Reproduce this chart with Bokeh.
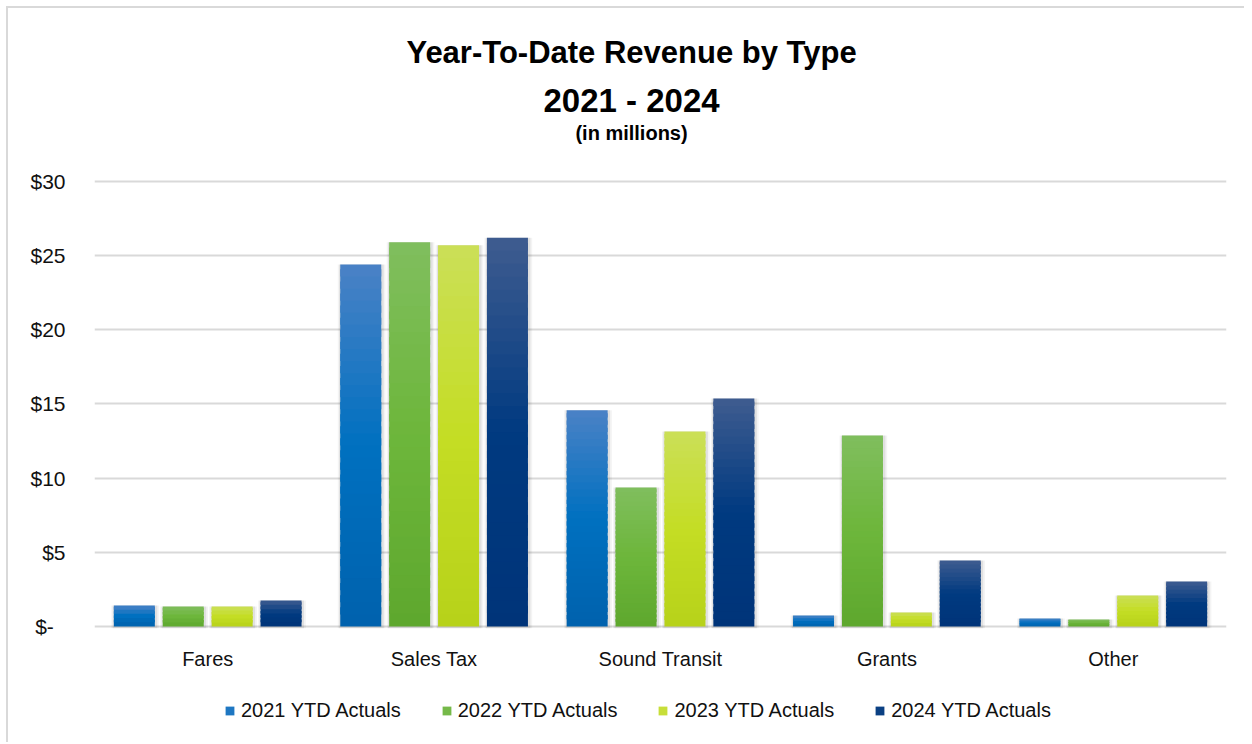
from bokeh.plotting import figure
from bokeh.models import (FactorRange, Range1d, Legend, LegendItem, Label,
                          CustomJSTickFormatter, ColumnDataSource, FixedTicker)
from bokeh.core.properties import value
from bokeh.transform import dodge
from bokeh.embed import file_html
from bokeh.resources import INLINE

# ---------------- data ----------------
categories = ["Fares", "Sales Tax", "Sound Transit", "Grants", "Other"]
series_names = ["2021 YTD Actuals", "2022 YTD Actuals", "2023 YTD Actuals", "2024 YTD Actuals"]
v2021 = [1.42, 24.4, 14.57, 0.74, 0.54]
v2022 = [1.35, 25.9, 9.37, 12.88, 0.47]
v2023 = [1.35, 25.7, 13.15, 0.94, 2.09]
v2024 = [1.75, 26.2, 15.37, 4.45, 3.03]
y_ticks = [0, 5, 10, 15, 20, 25, 30]
title_lines = ["Year-To-Date Revenue by Type", "2021 - 2024", "(in millions)"]

# ---------------- style ----------------
FONT = "Liberation Sans"
TXT = "#111111"
GRID = "#d9d9d9"
# (top, middle, bottom) gradient colours per series
palettes = [
    ("#4a82c6", "#0070c0", "#0062ad"),
    ("#80be5e", "#6db63b", "#5ea82e"),
    ("#cbdf58", "#c4dd24", "#b7d21a"),
    ("#3f5c90", "#003a80", "#003479"),
]
offsets = [-0.324, -0.108, 0.108, 0.324]
BAR_W = 0.181
N_MAX = 30


def hex2rgb(h):
    h = h.lstrip("#")
    return tuple(int(h[i:i + 2], 16) for i in (0, 2, 4))


def lerp(c1, c2, t):
    a, b = hex2rgb(c1), hex2rgb(c2)
    return "#%02x%02x%02x" % tuple(int(round(a[i] + (b[i] - a[i]) * t)) for i in range(3))


def grad(pal, f):
    top, mid, bot = pal
    if f >= 0.5:
        return lerp(mid, top, (f - 0.5) / 0.5)
    return lerp(bot, mid, f / 0.5)


# the plotting frame spans the full height so titles / labels / legend sit inside it
p = figure(x_range=FactorRange(*categories), y_range=Range1d(-7.82, 41.66), title=None,
           frame_width=1132, frame_height=734, output_backend="svg", toolbar_location=None,
           min_border_left=86, min_border_right=18, min_border_top=0, min_border_bottom=0,
           background_fill_color="white", border_fill_color="white")
p.outline_line_color = None
p.styles = {"margin-left": "6px", "margin-top": "6px",
            "border-left": "2px solid #d9d9d9", "border-top": "2px solid #d9d9d9"}

# title block
title_specs = [(38.7, "31px"), (35.47, "33px"), (33.24, "20px")]
for txt, (ty, fs) in zip(title_lines, title_specs):
    p.add_layout(Label(x=2.372, y=ty, text=txt, text_align="center", text_baseline="middle",
                       text_font=FONT, text_font_size=fs, text_font_style="bold",
                       text_color="black"))

all_vals = [v2021, v2022, v2023, v2024]

# soft shadows
for vals, off in zip(all_vals, offsets):
    s = ColumnDataSource(dict(x=categories, top=vals, bottom=[-0.12] * len(vals)))
    p.vbar(x=dodge("x", off + 0.004, range=p.x_range), top="top", bottom="bottom",
           width=BAR_W + 0.03, source=s, fill_color="black", fill_alpha=0.045, line_color=None)
    p.vbar(x=dodge("x", off + 0.003, range=p.x_range), top="top", bottom="bottom",
           width=BAR_W + 0.016, source=s, fill_color="black", fill_alpha=0.08, line_color=None)

items = []
for name, vals, off, pal in zip(series_names, all_vals, offsets, palettes):
    xs, bots, tops, cols = [], [], [], []
    first_idx = None
    for cat, v in zip(categories, vals):
        n = max(4, min(N_MAX, int(round(v * 3.7))))
        for k in range(n):
            xs.append(cat)
            bots.append(v * k / n)
            tops.append(min(v, v * (k + 1.6) / n))
            cols.append(grad(pal, (k + 0.5) / n))
        if first_idx is None:
            first_idx = int(n * 0.6)
    src = ColumnDataSource(dict(x=xs, top=tops, bottom=bots, color=cols))
    r = p.vbar(x=dodge("x", off, range=p.x_range), top="top", bottom="bottom", width=BAR_W,
               source=src, fill_color="color", line_color=None)
    items.append(LegendItem(label=name, renderers=[r], index=first_idx))

# category labels (under the zero line)
p.text(x=categories, y=[-2.16] * len(categories), text=categories, text_align="center",
       text_baseline="middle", text_font=value(FONT), text_font_size="20px", text_color=TXT)

# axes
p.xaxis.visible = False
p.yaxis.ticker = FixedTicker(ticks=y_ticks)
p.yaxis.formatter = CustomJSTickFormatter(
    code="return tick == 0 ? '$-\\u00a0\\u00a0' : '$' + tick.toFixed(0);")
p.yaxis.axis_line_color = None
p.yaxis.major_tick_line_color = None
p.yaxis.minor_tick_line_color = None
p.yaxis.major_label_standoff = 23
p.yaxis.major_label_text_font = FONT
p.yaxis.major_label_text_font_size = "21px"
p.yaxis.major_label_text_color = TXT

p.xgrid.grid_line_color = None
p.ygrid.ticker = FixedTicker(ticks=y_ticks)
p.ygrid.grid_line_color = GRID
p.ygrid.grid_line_width = 2

legend = Legend(items=items, orientation="horizontal", location=(130, 20),
                border_line_color=None, background_fill_alpha=0,
                label_text_font=FONT, label_text_font_size="20px", label_text_color=TXT,
                glyph_width=11, glyph_height=11, label_standoff=6, spacing=40,
                padding=0, margin=0)
p.add_layout(legend, "center")

open("out.html", "w").write(file_html(p, INLINE))
